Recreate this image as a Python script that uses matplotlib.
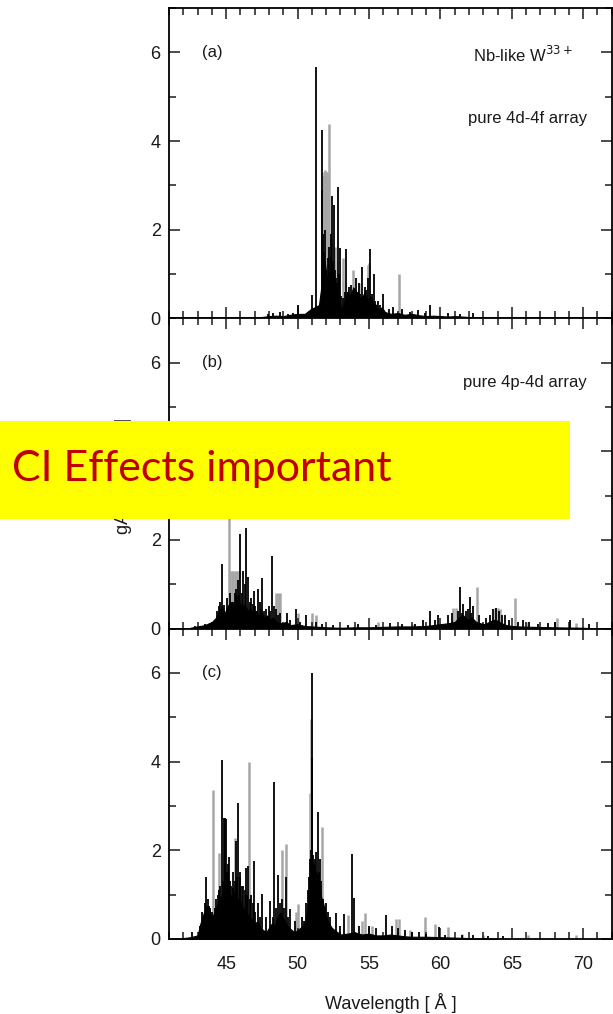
import numpy as np
import matplotlib
matplotlib.use('Agg')
import matplotlib.pyplot as plt
from matplotlib.ticker import MultipleLocator
from matplotlib.patches import Rectangle

plt.rcParams['font.family'] = ['Liberation Sans', 'DejaVu Sans']

# ---- panel (a): pure 4d-4f array ----
a_black_wl = [47.9, 48.3, 48.8, 49.3, 49.7, 50.05, 50.4, 51.03, 51.29, 51.73, 51.68, 51.95, 52.1,
              52.44, 52.55, 52.85, 52.99, 53.41, 53.3, 53.75, 54.1, 54.3, 54.48, 54.7, 55.07,
              55.37, 55.6, 55.95, 56.4, 56.7, 57.3, 57.9, 58.4, 58.9, 59.26, 60.5, 61.4, 62.3,
              51.75, 51.82, 51.9, 52.02, 52.18, 52.25, 52.35, 52.48, 52.62, 52.7, 52.78, 52.92,
              53.05, 53.15, 53.5, 53.6, 53.85, 53.95, 54.2, 54.4, 54.6, 54.8, 54.95, 55.2,
              55.45, 55.8]
a_black_gA = [0.1, 0.12, 0.15, 0.1, 0.12, 0.31, 0.1, 0.53, 5.66, 4.24, 2.89, 2.0, 1.35,
              2.76, 2.55, 2.96, 1.59, 1.56, 0.6, 0.75, 0.9, 0.8, 1.16, 0.7, 1.57,
              1.0, 0.4, 0.56, 0.2, 0.25, 0.2, 0.15, 0.18, 0.12, 0.31, 0.12, 0.1, 0.12,
              1.9, 1.5, 1.2, 1.1, 1.6, 1.0, 1.9, 1.3, 1.1, 0.9, 0.8, 1.0,
              0.5, 0.45, 0.6, 0.7, 0.55, 0.65, 0.6, 0.55, 0.5, 0.65, 0.9, 0.55,
              0.4, 0.3]
a_gray_wl = [51.8, 51.87, 51.93, 52.0, 52.07, 52.14, 52.22, 52.6, 53.2, 53.9, 54.3, 54.9, 55.0, 57.1]
a_gray_gA = [3.2, 3.3, 3.35, 3.3, 3.3, 3.25, 4.38, 1.6, 1.36, 1.08, 0.8, 1.2, 1.25, 1.01]
a_env_wl = [46.0, 47.5, 48.0, 48.5, 49.0, 49.5, 50.0, 50.5, 50.9, 51.2, 51.5, 51.7, 51.8, 51.9,
            52.0, 52.1, 52.2, 52.3, 52.4, 52.5, 52.6, 52.7, 52.8, 52.9, 53.0, 53.1, 53.3, 53.5,
            53.7, 53.9, 54.1, 54.3, 54.5, 54.7, 54.9, 55.1, 55.3, 55.5, 55.7, 55.9, 56.1, 56.3,
            56.6, 57.0, 57.5, 58.0, 58.5, 59.0, 59.5, 60.0, 60.5, 61.0, 62.0, 63.0, 64.0]
a_env_gA = [0.0, 0.03, 0.05, 0.06, 0.05, 0.08, 0.1, 0.1, 0.2, 0.25, 0.3, 0.8, 1.1, 1.3,
            1.0, 0.9, 0.7, 1.4, 1.0, 0.8, 0.6, 0.5, 0.6, 0.4, 0.3, 0.2, 0.4, 0.6,
            0.5, 0.7, 0.6, 0.5, 0.45, 0.6, 0.4, 0.5, 0.35, 0.3, 0.2, 0.25, 0.15, 0.12,
            0.1, 0.12, 0.08, 0.1, 0.07, 0.05, 0.06, 0.05, 0.04, 0.05, 0.03, 0.02, 0.0]

# ---- panel (b): pure 4p-4d array ----
b_black_wl = [42.8, 43.5, 44.0, 44.38, 44.73, 44.87, 45.25, 45.5, 45.7, 45.99, 46.2, 46.41, 46.55,
              46.75, 46.95, 47.2, 47.35, 47.53, 47.8, 48.0, 48.23, 48.5, 48.8, 49.23, 49.5, 49.89,
              50.2, 50.6, 51.3, 51.7, 52.5, 53.5, 54.2, 55.5, 56.5, 57.3, 58.2, 58.8, 59.27, 59.6,
              59.85, 60.5, 60.8, 61.36, 61.6, 61.8, 62.06, 62.3, 62.7, 63.2, 63.7, 63.9, 64.1,
              64.5, 64.8, 65.4, 65.8, 66.2, 66.8, 67.5, 68.0, 69.1, 70.4,
              44.5, 44.6, 45.05, 45.4, 45.6, 45.8, 45.9, 46.1, 46.3, 46.65, 46.85, 47.05, 47.45,
              47.65, 48.1, 48.35, 48.65, 61.2, 61.5, 61.95, 62.15, 63.5, 64.3]
b_black_gA = [0.05, 0.1, 0.15, 0.4, 1.45, 0.54, 0.8, 0.6, 0.9, 2.14, 1.3, 2.27, 1.17,
              0.7, 0.86, 0.9, 0.6, 1.14, 0.45, 0.5, 1.63, 0.45, 0.35, 0.35, 0.2, 0.44,
              0.15, 0.3, 0.15, 0.1, 0.08, 0.08, 0.1, 0.08, 0.12, 0.1, 0.1, 0.2, 0.4, 0.2,
              0.3, 0.3, 0.35, 0.95, 0.55, 0.4, 0.72, 0.5, 0.3, 0.25, 0.45, 0.47, 0.4,
              0.3, 0.2, 0.15, 0.2, 0.15, 0.1, 0.12, 0.15, 0.2, 0.1,
              0.5, 0.6, 0.7, 0.6, 0.8, 1.1, 0.75, 0.8, 1.0, 0.6, 0.55, 0.5, 0.45,
              0.4, 0.4, 0.5, 0.3, 0.4, 0.35, 0.45, 0.35, 0.3, 0.3]
b_gray_wl = [45.22, 45.3, 45.4, 45.5, 45.6, 45.7, 45.8, 45.9, 48.5, 48.6, 48.7, 48.8, 50.0, 50.98,
             51.3, 55.6, 58.0, 60.9, 61.1, 62.53, 63.8, 64.0, 64.2, 65.2, 66.0, 68.2, 69.5]
b_gray_gA = [2.7, 1.31, 1.31, 1.3, 1.31, 1.3, 1.31, 1.3, 0.8, 0.8, 0.78, 0.8, 0.35, 0.35,
             0.3, 0.15, 0.1, 0.46, 0.46, 0.95, 0.47, 0.47, 0.45, 0.7, 0.15, 0.25, 0.12]
b_env_wl = [42.5, 43.0, 43.5, 44.0, 44.3, 44.5, 44.7, 44.9, 45.1, 45.3, 45.5, 45.7, 45.9, 46.1,
            46.3, 46.5, 46.7, 46.9, 47.1, 47.3, 47.5, 47.7, 47.9, 48.1, 48.3, 48.5, 48.8, 49.2,
            49.5, 50.0, 50.5, 51.0, 52.0, 53.0, 54.0, 55.0, 56.0, 57.0, 58.0, 59.0, 60.0, 60.5,
            61.0, 61.3, 61.6, 61.9, 62.2, 62.5, 62.8, 63.1, 63.4, 63.7, 64.0, 64.3, 64.6, 65.0,
            65.5, 66.5, 68.0, 70.0, 71.0]
b_env_gA = [0.02, 0.05, 0.08, 0.15, 0.25, 0.4, 0.5, 0.35, 0.5, 0.6, 0.45, 0.75, 0.6, 0.5,
            0.55, 0.4, 0.45, 0.35, 0.4, 0.3, 0.35, 0.25, 0.3, 0.2, 0.25, 0.15, 0.12, 0.15,
            0.08, 0.1, 0.06, 0.05, 0.03, 0.02, 0.03, 0.03, 0.04, 0.05, 0.05, 0.06, 0.1, 0.12,
            0.15, 0.25, 0.3, 0.2, 0.25, 0.15, 0.12, 0.1, 0.15, 0.2, 0.18, 0.12, 0.08, 0.06,
            0.05, 0.04, 0.03, 0.02, 0.0]

# ---- panel (c): full calculation with CI ----
c_black_wl = [42.6, 43.2, 43.4, 43.57, 43.7, 43.9, 44.3, 44.6, 44.73, 44.85, 44.92, 45.0, 45.1,
              45.2, 45.35, 45.5, 45.7, 45.85, 46.0, 46.2, 46.4, 46.55, 46.75, 46.97, 47.2, 47.53,
              47.8, 48.1, 48.37, 48.65, 48.9, 49.2, 49.5, 49.8, 50.3, 50.6, 50.75, 50.9, 51.03,
              51.0, 51.3, 51.4, 51.55, 51.8, 52.0, 52.3, 52.69, 53.0, 53.25, 53.83, 53.95, 54.3,
              55.0, 55.5, 56.19, 56.6, 57.0, 57.5, 58.0, 58.5, 59.0, 59.9, 60.3, 61.5, 62.3,
              63.3, 64.4,
              43.3, 43.5, 43.8, 44.0, 44.2, 44.4, 44.5, 44.8, 45.05, 45.15, 45.3, 45.45, 45.6,
              45.75, 45.95, 46.1, 46.3, 46.45, 46.65, 46.85, 47.05, 47.35, 48.25, 48.5, 48.8,
              49.05, 49.35, 50.45, 50.8, 50.95, 51.1, 51.2, 51.5, 51.65, 51.95, 52.15]
c_black_gA = [0.15, 0.3, 0.5, 1.39, 0.9, 0.7, 0.9, 1.2, 4.03, 2.72, 2.72, 2.7, 1.7,
              1.85, 1.2, 1.5, 2.2, 3.06, 1.4, 1.2, 1.6, 1.65, 1.0, 1.76, 0.8, 1.01,
              0.5, 0.85, 3.54, 1.45, 0.9, 1.4, 0.67, 0.4, 0.5, 0.8, 1.1, 1.8, 6.0,
              4.09, 1.97, 2.87, 1.8, 0.9, 0.8, 0.5, 0.59, 0.3, 0.56, 1.91, 0.92, 0.3,
              0.3, 0.25, 0.55, 0.3, 0.25, 0.2, 0.15, 0.15, 0.12, 0.27, 0.1, 0.08, 0.08,
              0.06, 0.06,
              0.6, 0.8, 0.75, 0.6, 0.7, 1.0, 1.1, 1.3, 1.5, 1.4, 1.3, 1.15, 1.3,
              1.4, 1.5, 1.2, 1.1, 1.0, 0.9, 0.8, 0.6, 0.5, 0.5, 0.7, 0.8,
              0.7, 0.5, 0.4, 1.4, 2.0, 1.9, 1.8, 1.5, 1.3, 0.7, 0.6]
c_gray_wl = [44.1, 44.5, 45.6, 46.6, 48.88, 49.19, 49.9, 50.05, 50.85, 50.95, 51.7, 53.55, 54.5,
             54.7, 55.2, 56.9, 57.1, 57.9, 58.9, 59.6, 60.5, 61.5, 63.0, 66.1, 69.5]
c_gray_gA = [3.36, 1.93, 2.28, 4.0, 2.0, 2.14, 0.6, 0.79, 3.3, 4.97, 2.53, 0.54, 0.4,
             0.58, 0.3, 0.44, 0.44, 0.2, 0.5, 0.34, 0.26, 0.12, 0.1, 0.1, 0.1]
c_env_wl = [41.8, 42.0, 42.5, 43.0, 43.2, 43.4, 43.6, 43.8, 44.0, 44.2, 44.4, 44.6, 44.8, 45.0,
            45.2, 45.4, 45.6, 45.8, 46.0, 46.2, 46.4, 46.6, 46.8, 47.0, 47.2, 47.4, 47.6, 47.8,
            48.0, 48.2, 48.4, 48.6, 48.8, 49.0, 49.2, 49.4, 49.6, 49.8, 50.0, 50.2, 50.4, 50.6,
            50.8, 51.0, 51.2, 51.4, 51.6, 51.8, 52.0, 52.2, 52.4, 52.6, 52.8, 53.0, 53.5, 54.0,
            54.5, 55.0, 55.5, 56.0, 56.5, 57.0, 57.5, 58.0, 59.0, 60.0, 61.0, 62.0, 64.0]
c_env_gA = [0.0, 0.02, 0.04, 0.08, 0.35, 0.55, 0.75, 0.65, 0.5, 0.6, 0.8, 0.95, 1.0, 1.1,
            0.95, 1.0, 1.05, 0.9, 0.85, 0.7, 0.6, 0.5, 0.45, 0.35, 0.4, 0.25, 0.2, 0.15,
            0.25, 0.35, 0.3, 0.5, 0.6, 0.45, 0.35, 0.25, 0.2, 0.15, 0.2, 0.25, 0.3, 0.5,
            1.0, 1.8, 1.6, 1.4, 1.0, 0.8, 0.5, 0.35, 0.25, 0.2, 0.15, 0.1, 0.12, 0.15,
            0.1, 0.12, 0.08, 0.08, 0.1, 0.08, 0.06, 0.05, 0.05, 0.04, 0.03, 0.02, 0.0]

panels = [
    ('(a)', a_black_wl, a_black_gA, a_gray_wl, a_gray_gA, a_env_wl, a_env_gA),
    ('(b)', b_black_wl, b_black_gA, b_gray_wl, b_gray_gA, b_env_wl, b_env_gA),
    ('(c)', c_black_wl, c_black_gA, c_gray_wl, c_gray_gA, c_env_wl, c_env_gA),
]

gray = '#a6a6a6'
ink = '#1a1a1a'

fig = plt.figure(figsize=(6.13, 10.14), dpi=100)
gs = fig.add_gridspec(3, 1, left=0.2757, right=0.998, top=0.9921, bottom=0.074, hspace=0)
axes = [fig.add_subplot(gs[i]) for i in range(3)]

for ax, (tag, bwl, bga, gwl, gga, ewl, ega) in zip(axes, panels):
    # gray sticks behind, black envelope + sticks on top
    ax.vlines(gwl, 0, gga, color=gray, lw=1.8, zorder=1)
    ax.fill_between(ewl, 0, ega, color='k', lw=0.8, edgecolor='k', zorder=2)
    ax.vlines(bwl, 0, bga, color='k', lw=1.3, zorder=3)
    ax.set_xlim(41, 72)
    ax.set_ylim(0, 7)
    ax.xaxis.set_major_locator(MultipleLocator(5))
    ax.xaxis.set_minor_locator(MultipleLocator(1))
    ax.yaxis.set_major_locator(MultipleLocator(2))
    ax.yaxis.set_minor_locator(MultipleLocator(1))
    ax.tick_params(which='both', direction='in', top=True, right=True, width=1.1,
                   labelsize=13, colors=ink)
    ax.tick_params(which='major', length=8)
    ax.tick_params(which='minor', length=5)
    ax.tick_params(axis='y', pad=6)
    ax.tick_params(axis='x', pad=12)
    for s in ax.spines.values():
        s.set_linewidth(1.3)
    ax.text(43.3, 6.0, tag, fontsize=12, va='center', ha='left', color=ink)
    if tag != '(c)':
        ax.tick_params(axis='x', labelbottom=False)

axes[0].text(69.3, 5.95, r'Nb-like W$^{33+}$', fontsize=12, ha='right', va='center', color=ink)
axes[0].text(70.25, 4.5, 'pure 4d-4f array', fontsize=12, ha='right', va='center', color=ink)
axes[1].text(70.25, 5.55, 'pure 4p-4d array', fontsize=12, ha='right', va='center', color=ink)

axes[2].set_xlabel('Wavelength [ Å ]', fontsize=13, color=ink, labelpad=15)
fig.text(0.2, 0.53, r'gA [ 10$^{13}$ s$^{-1}$ ]', rotation=90, fontsize=13,
         ha='center', va='center', color=ink)

# yellow overlay box
fig.patches.append(Rectangle((0, 0.4882), 0.93, 0.0966, transform=fig.transFigure,
                             facecolor='#ffff00', edgecolor='none', zorder=10))
fig.text(0.0196, 1 - 481 / 1014, 'CI Effects important', fontsize=31, family='Lato',
         color='#c00000', ha='left', va='baseline', zorder=11)

plt.savefig('out.png', dpi=100)
